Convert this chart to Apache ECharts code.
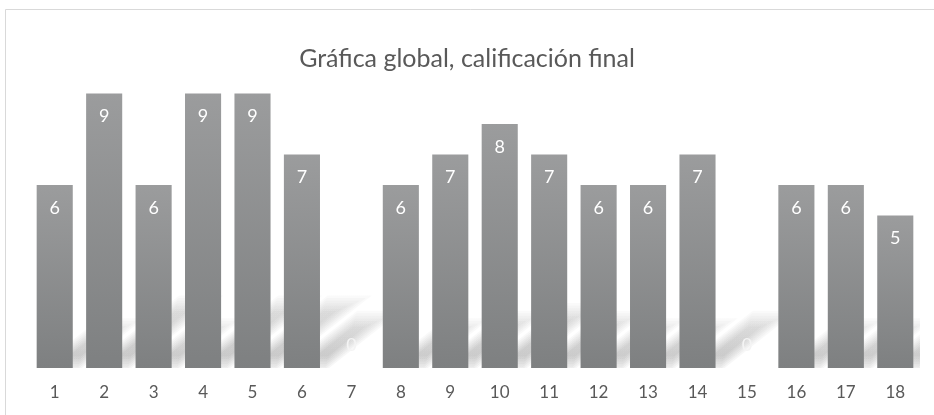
<!DOCTYPE html>
<html><head><meta charset="utf-8">
<script src="https://cdn.jsdelivr.net/npm/echarts@6/dist/echarts.min.js"></script>
<style>html,body{margin:0;padding:0;background:#fff}#c{width:934px;height:415px}</style>
</head><body><div id="c"></div>
<script>
const titleText = 'Gráfica global, calificación final';
const categories = ['1','2','3','4','5','6','7','8','9','10','11','12','13','14','15','16','17','18'];
const values = [6,9,6,9,9,7,0,6,7,8,7,6,6,7,0,6,6,5];

const chart = echarts.init(document.getElementById('c'));
const barData = values.map(v => v === 0
  ? {value: v, label: {position: 'top', distance: 14, color: '#f4f4f4'}}
  : v);
function renderShadow(params, api) {
  const v = api.value(1);
  if (!v) return null;
  const i = api.value(0);
  const base = api.coord([i, 0]);
  const top = api.coord([i, v]);
  const bw = api.size([1, 0])[0] * 0.73;
  const h = (base[1] - top[1]) * 0.25;
  const dx = h * 1.3;
  const x0 = base[0] - bw / 2 - 4, y0 = base[1] + 4;
  const W = bw + 8, H = h + 8;
  const children = [];
  const steps = 7, s = 2.6;
  for (let k = 0; k < steps; k++) {
    const d = k * s;
    const u0 = d, u1 = W - d;
    const t0 = d / H, t1 = 1 - d / H;
    if (u1 <= u0 || t1 <= t0) break;
    const P = (u, t) => [x0 + u + t * (dx + 8), y0 - t * H];
    children.push({
      type: 'polygon',
      shape: {points: [P(u0, t0), P(u1, t0), P(u1, t1), P(u0, t1)]},
      style: {fill: new echarts.graphic.LinearGradient(0, 1, 0, 0, [
        {offset: 0, color: 'rgba(0,0,0,0.035)'},
        {offset: 1, color: 'rgba(0,0,0,0.02)'}
      ])}
    });
  }
  return {type: 'group', children};
}
chart.setOption({
  animation: false,
  backgroundColor: '#fff',
  graphic: [{type: 'rect', shape: {x: 5.5, y: 9.5, width: 940, height: 420}, style: {fill: 'none', stroke: '#d9d9d9', lineWidth: 1}, z: -1}],
  title: {text: titleText, left: 'center', top: 41, textStyle: {fontFamily: 'Lato', fontSize: 25, fontWeight: 'normal', color: '#595959'}},
  grid: {left: 30, right: 14, top: 93.5, bottom: 47},
  xAxis: {type: 'category', data: categories,
    axisLine: {show: false}, axisTick: {show: false},
    axisLabel: {color: '#595959', fontSize: 17, fontFamily: 'Lato', margin: 16}},
  yAxis: {type: 'value', min: 0, max: 9, show: false, splitLine: {show: false}},
  series: [{
    type: 'custom', clip: true, z: 1, silent: true,
    data: values.map((v, i) => [i, v]),
    encode: {x: 0, y: 1},
    renderItem: renderShadow
  }, {
    type: 'bar', data: barData, barCategoryGap: '27%', z: 2,
    itemStyle: {color: new echarts.graphic.LinearGradient(0,0,0,1,[{offset:0,color:'#9b9c9d'},{offset:1,color:'#7e8081'}])},
    label: {show: true, position: 'insideTop', distance: 14, color: '#ffffff', fontSize: 18, fontFamily: 'Lato'}
  }]
});
</script></body></html>
